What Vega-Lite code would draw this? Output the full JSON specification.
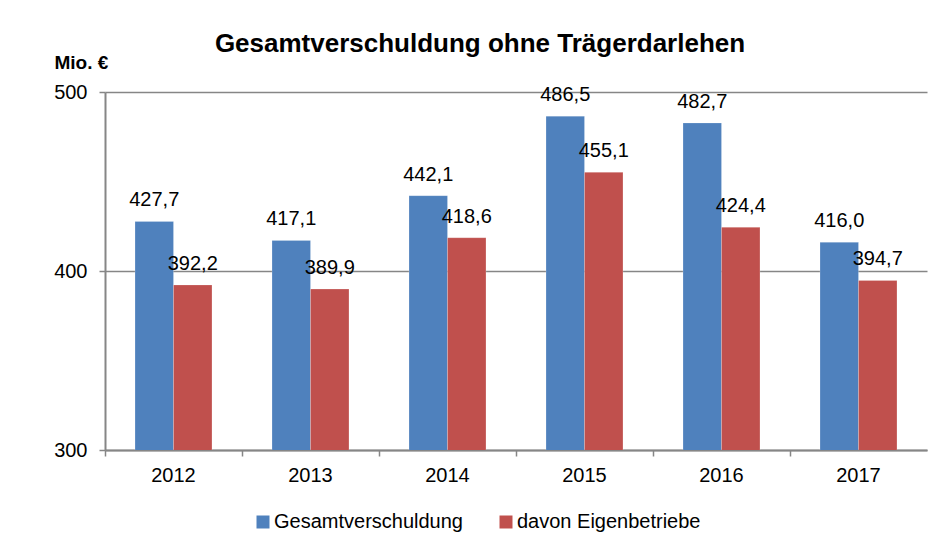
{
  "$schema": "https://vega.github.io/schema/vega-lite/v6.json",
  "autosize": "none",
  "width": 822,
  "height": 358,
  "padding": {"left": 105, "top": 92, "right": 14, "bottom": 104},
  "background": "white",
  "config": {
    "font": "Liberation Sans",
    "view": {"stroke": null},
    "locale": {"number": {"decimal": ",", "thousands": ".", "grouping": [3], "currency": ["", " €"]}}
  },
  "title": {
    "text": "Gesamtverschuldung ohne Trägerdarlehen",
    "font": "Liberation Sans",
    "fontSize": 26,
    "fontWeight": "bold",
    "color": "#000000",
    "anchor": "middle",
    "dx": -36,
    "offset": -4
  },
  "data": {
    "values": [
      {"Jahr": "2012", "Serie": "Gesamtverschuldung", "Wert": 427.7},
      {"Jahr": "2012", "Serie": "davon Eigenbetriebe", "Wert": 392.2},
      {"Jahr": "2013", "Serie": "Gesamtverschuldung", "Wert": 417.1},
      {"Jahr": "2013", "Serie": "davon Eigenbetriebe", "Wert": 389.9},
      {"Jahr": "2014", "Serie": "Gesamtverschuldung", "Wert": 442.1},
      {"Jahr": "2014", "Serie": "davon Eigenbetriebe", "Wert": 418.6},
      {"Jahr": "2015", "Serie": "Gesamtverschuldung", "Wert": 486.5},
      {"Jahr": "2015", "Serie": "davon Eigenbetriebe", "Wert": 455.1},
      {"Jahr": "2016", "Serie": "Gesamtverschuldung", "Wert": 482.7},
      {"Jahr": "2016", "Serie": "davon Eigenbetriebe", "Wert": 424.4},
      {"Jahr": "2017", "Serie": "Gesamtverschuldung", "Wert": 416.0},
      {"Jahr": "2017", "Serie": "davon Eigenbetriebe", "Wert": 394.7}
    ]
  },
  "encoding": {
    "x": {
      "field": "Jahr",
      "type": "nominal",
      "scale": {"paddingInner": 0, "paddingOuter": 0},
      "axis": {
        "title": null,
        "labelAngle": 0,
        "labelFontSize": 20,
        "labelColor": "#000000",
        "labelPadding": 9,
        "bandPosition": 0,
        "tickSize": 6,
        "tickColor": "#868686",
        "tickWidth": 1.5,
        "domainColor": "#868686",
        "domainWidth": 2,
        "grid": false
      }
    },
    "xOffset": {
      "field": "Serie",
      "type": "nominal",
      "sort": ["Gesamtverschuldung", "davon Eigenbetriebe"],
      "scale": {"paddingInner": 0, "paddingOuter": 0.78}
    },
    "y": {
      "field": "Wert",
      "type": "quantitative",
      "scale": {"domain": [300, 500], "zero": false, "nice": false},
      "axis": {
        "values": [300, 400, 500],
        "title": "Mio. €",
        "titleAngle": 0,
        "titleFontSize": 19,
        "titleFontWeight": "bold",
        "titleColor": "#000000",
        "titleAlign": "left",
        "titleBaseline": "alphabetic",
        "titleX": -51,
        "titleY": -24,
        "labelFontSize": 20,
        "labelColor": "#000000",
        "labelPadding": 12,
        "tickSize": 6,
        "tickColor": "#868686",
        "tickWidth": 1.5,
        "domainColor": "#868686",
        "domainWidth": 2,
        "grid": true,
        "gridColor": "#868686",
        "gridWidth": 1.5
      }
    }
  },
  "layer": [
    {
      "mark": {"type": "bar", "clip": true, "stroke": "white", "strokeWidth": 0.5, "strokeOpacity": 0.4},
      "encoding": {
        "color": {
          "field": "Serie",
          "type": "nominal",
          "sort": ["Gesamtverschuldung", "davon Eigenbetriebe"],
          "scale": {"domain": ["Gesamtverschuldung", "davon Eigenbetriebe"], "range": ["#4F81BD", "#C0504D"]},
          "legend": {
            "title": null,
            "orient": "none",
            "direction": "horizontal",
            "legendX": 148,
            "legendY": 420,
            "symbolType": "square",
            "symbolSize": 169,
            "symbolStrokeWidth": 0,
            "labelFontSize": 20,
            "labelColor": "#000000",
            "labelOffset": 1,
            "labelLimit": 0,
            "columnPadding": 33
          }
        }
      }
    },
    {
      "mark": {"type": "text", "fontSize": 20, "color": "#000000", "baseline": "alphabetic", "dy": -15},
      "encoding": {
        "text": {"field": "Wert", "type": "quantitative", "format": ".1f"}
      }
    }
  ]
}
